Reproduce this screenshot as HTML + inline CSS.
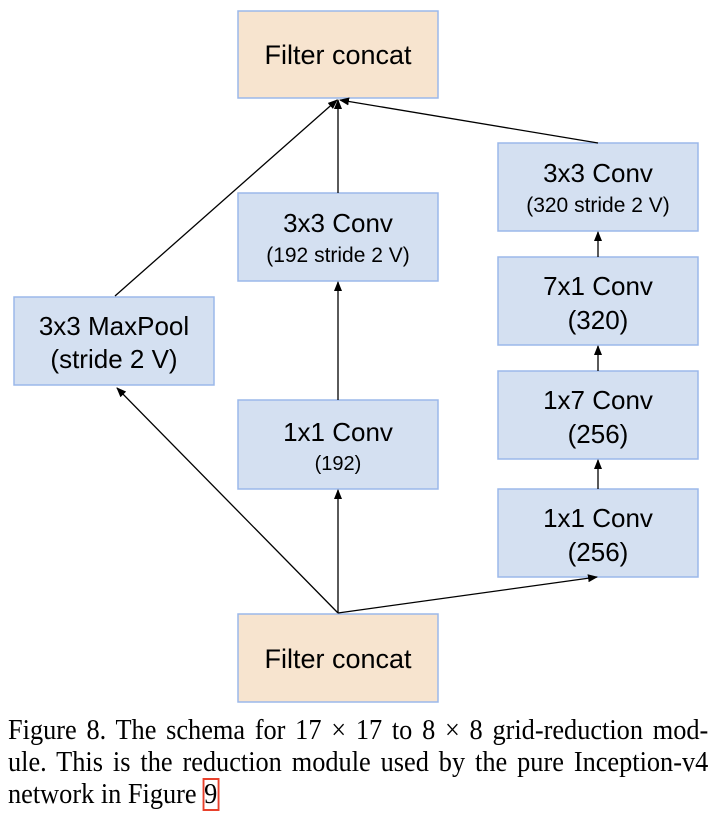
<!DOCTYPE html>
<html><head><meta charset="utf-8"><style>
html,body{margin:0;padding:0;background:#fff;width:718px;height:822px;overflow:hidden}
svg{position:absolute;left:0;top:0}
.cap{position:absolute;left:8px;top:715px;width:745px;font-family:"Liberation Serif",serif;font-size:28px;line-height:32px;color:#000;transform:scaleX(0.94);transform-origin:0 0}
.cap div{text-align:justify;text-align-last:justify;white-space:nowrap}
.cap div.l{text-align-last:left}
.b{fill:#d4e0f1;stroke:#9bb8ea;stroke-width:1.5}
.o{fill:#f7e4cf;stroke:#9bb8ea;stroke-width:1.5}
text{font-family:"Liberation Sans",sans-serif;fill:#000;text-anchor:middle}
line{stroke:#000;stroke-width:1.3}
</style></head><body>
<svg width="718" height="822">
<defs><marker id="a" markerWidth="10" markerHeight="8" refX="9" refY="4" orient="auto" markerUnits="userSpaceOnUse"><path d="M0,0 L10,4 L0,8 Z" fill="#000"/></marker></defs>
<rect class="o" x="238" y="11" width="200" height="87"/>
<text x="338" y="64" font-size="27">Filter concat</text>
<rect class="b" x="238" y="193" width="200" height="88"/>
<text x="338" y="232" font-size="26">3x3 Conv</text>
<text x="338" y="262" font-size="21">(192 stride 2 V)</text>
<rect class="b" x="14" y="297" width="200" height="88"/>
<text x="114" y="335" font-size="26">3x3 MaxPool</text>
<text x="114" y="368" font-size="26">(stride 2 V)</text>
<rect class="b" x="238" y="400" width="200" height="89"/>
<text x="338" y="441" font-size="26">1x1 Conv</text>
<text x="338" y="470" font-size="20">(192)</text>
<rect class="o" x="238" y="614" width="200" height="88"/>
<text x="338" y="668" font-size="27">Filter concat</text>
<rect class="b" x="498" y="143" width="200" height="88"/>
<text x="598" y="182" font-size="26">3x3 Conv</text>
<text x="598" y="212" font-size="21">(320 stride 2 V)</text>
<rect class="b" x="498" y="257" width="200" height="88"/>
<text x="598" y="295" font-size="26">7x1 Conv</text>
<text x="598" y="329" font-size="26">(320)</text>
<rect class="b" x="498" y="371" width="200" height="88"/>
<text x="598" y="409" font-size="26">1x7 Conv</text>
<text x="598" y="443" font-size="26">(256)</text>
<rect class="b" x="498" y="489" width="200" height="88"/>
<text x="598" y="527" font-size="26">1x1 Conv</text>
<text x="598" y="561" font-size="26">(256)</text>
<line x1="338" y1="613" x2="117" y2="388" marker-end="url(#a)"/>
<line x1="338" y1="613" x2="338" y2="490" marker-end="url(#a)"/>
<line x1="338" y1="613" x2="597" y2="577" marker-end="url(#a)"/>
<line x1="338" y1="400" x2="338" y2="282" marker-end="url(#a)"/>
<line x1="338" y1="193" x2="338" y2="100" marker-end="url(#a)"/>
<line x1="115" y1="296" x2="337" y2="100" marker-end="url(#a)"/>
<line x1="598" y1="143" x2="340" y2="100" marker-end="url(#a)"/>
<line x1="598" y1="257" x2="598" y2="232" marker-end="url(#a)"/>
<line x1="598" y1="371" x2="598" y2="346" marker-end="url(#a)"/>
<line x1="598" y1="489" x2="598" y2="460" marker-end="url(#a)"/>
</svg>
<div class="cap">
<div>Figure 8. The schema for 17 × 17 to 8 × 8 grid-reduction mod-</div>
<div>ule. This is the reduction module used by the pure Inception-v4</div>
<div class="l">network in Figure <span style="outline:2px solid #e8412c;outline-offset:-1px;padding:0 1px">9</span></div>
</div>
</body></html>
